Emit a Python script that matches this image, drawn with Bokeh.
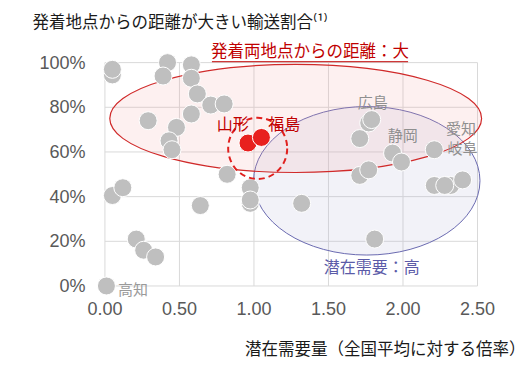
from bokeh.plotting import figure
from bokeh.models import FixedTicker, Label, Title
from bokeh.embed import file_html
from bokeh.resources import INLINE

# ---- data ----
x_ticks = [0.0, 0.5, 1.0, 1.5, 2.0, 2.5]
x_tick_labels = ["0.00", "0.50", "1.00", "1.50", "2.00", "2.50"]
y_ticks = [0.0, 0.2, 0.4, 0.6, 0.8, 1.0]
y_tick_labels = ["0%", "20%", "40%", "60%", "80%", "100%"]

grey_x = [0.05, 0.05, 0.42, 0.39, 0.58, 0.58, 0.62, 0.71, 0.80, 0.29, 0.58, 0.48,
          0.43, 0.45, 0.82, 0.975, 0.975, 0.975, 0.64, 0.05, 0.12, 0.21, 0.26, 0.34,
          0.01, 1.77, 1.79, 1.71, 1.93, 1.99, 2.21, 1.71, 1.77, 2.21, 2.32, 2.28,
          2.40, 1.32, 1.81]
grey_y = [0.945, 0.97, 1.0, 0.94, 0.99, 0.93, 0.86, 0.81, 0.815, 0.74, 0.77, 0.71,
          0.65, 0.61, 0.50, 0.44, 0.37, 0.385, 0.36, 0.405, 0.44, 0.21, 0.16, 0.13,
          0.0, 0.73, 0.745, 0.66, 0.595, 0.555, 0.61, 0.495, 0.52, 0.45, 0.45, 0.45,
          0.475, 0.37, 0.21]
red_x = [0.96, 1.05]
red_y = [0.64, 0.665]

# highlighted regions (center x, center y, width, height in data units)
dist_region = (1.28, 0.75, 2.495, 0.484)
demand_region = (1.757, 0.471, 1.519, 0.665)
focus_region = (1.025, 0.616, 0.396, 0.274)

cjk = "Noto Sans CJK JP"

# ---- figure ----
p = figure(frame_width=431, frame_height=262,
           x_range=(-0.07, 2.822), y_range=(-0.065, 1.108),
           min_border_left=94, min_border_right=2, min_border_top=37, min_border_bottom=60,
           output_backend="svg", toolbar_location=None)
p.outline_line_color = None
p.xgrid.visible = False
p.ygrid.visible = False

p.add_layout(Title(text="発着地点からの距離が大きい輸送割合⁽¹⁾", align="left", offset=-62,
                   standoff=12, text_font=cjk, text_font_size="16.5px",
                   text_font_style="normal", text_color="#1a1a1a"), "above")
p.add_layout(Title(text="潜在需要量（全国平均に対する倍率）", align="right", offset=0,
                   standoff=32, text_font=cjk, text_font_size="16.5px",
                   text_font_style="normal", text_color="#1a1a1a"), "below")

grid_color = "#D9D9D9"
p.segment(x0=x_ticks, y0=[y_ticks[0]] * len(x_ticks), x1=x_ticks, y1=[y_ticks[-1]] * len(x_ticks),
          line_color=grid_color, line_width=1)
p.segment(x0=[x_ticks[0]] * len(y_ticks), y0=y_ticks, x1=[x_ticks[-1]] * len(y_ticks), y1=y_ticks,
          line_color=grid_color, line_width=1)

for ax, ticks, labels in ((p.xaxis[0], x_ticks, x_tick_labels), (p.yaxis[0], y_ticks, y_tick_labels)):
    ax.ticker = FixedTicker(ticks=ticks)
    ax.major_label_overrides = {t: l for t, l in zip(ticks, labels)}
    ax.axis_line_color = None
    ax.major_tick_line_color = None
    ax.minor_tick_line_color = None
    ax.major_label_text_font = "Liberation Sans"
    ax.major_label_text_font_size = "18px"
    ax.major_label_text_color = "#595959"
p.yaxis.major_label_standoff = 3
p.xaxis.major_label_standoff = -5

# regions
p.ellipse(x=[demand_region[0]], y=[demand_region[1]], width=[demand_region[2]], height=[demand_region[3]],
          fill_color="#B0B0D8", fill_alpha=0.17, line_color="#6A6AB0", line_width=1)
p.ellipse(x=[dist_region[0]], y=[dist_region[1]], width=[dist_region[2]], height=[dist_region[3]],
          fill_color="#F0A0A0", fill_alpha=0.16, line_color="#D02A2A", line_width=1.2)

# points
p.scatter(grey_x, grey_y, size=18, fill_color="#BFBFBF", line_color="white", line_width=1)
p.scatter(red_x, red_y, size=18, fill_color="#E8201E", line_color="white", line_width=1)

p.ellipse(x=[focus_region[0]], y=[focus_region[1]], width=[focus_region[2]], height=[focus_region[3]],
          fill_color=None, line_color="#E0201E", line_width=2, line_dash="6 4")


def lab(x, y, text, size="16px", color="#1a1a1a", align="center", font=cjk):
    p.add_layout(Label(x=x, y=y, text=text, text_font=font, text_font_size=size,
                       text_color=color, text_align=align, text_baseline="middle"))


# point labels
lab(0.188, -0.010, "高知", size="15px", color="#9A9A9A")
lab(1.797, 0.828, "広島", size="15px", color="#8F8F8F")
lab(1.998, 0.679, "静岡", size="15px", color="#8F8F8F")
lab(2.389, 0.709, "愛知", size="15px", color="#8F8F8F")
lab(2.400, 0.620, "岐阜", size="15px", color="#8F8F8F")
lab(0.857, 0.728, "山形", size="16px", color="#C00000")
lab(1.203, 0.731, "福島", size="16px", color="#C00000")
lab(1.790, 0.089, "潜在需要：高", size="16px", color="#5B5BA8")

# region caption with underline
lab(1.376, 1.058, "発着両地点からの距離：大", size="16.5px", color="#C00000")
p.segment(x0=[0.718], y0=[1.004], x1=[2.034], y1=[1.004], line_color="#C00000", line_width=1)

open("out.html", "w").write(file_html(p, INLINE))
